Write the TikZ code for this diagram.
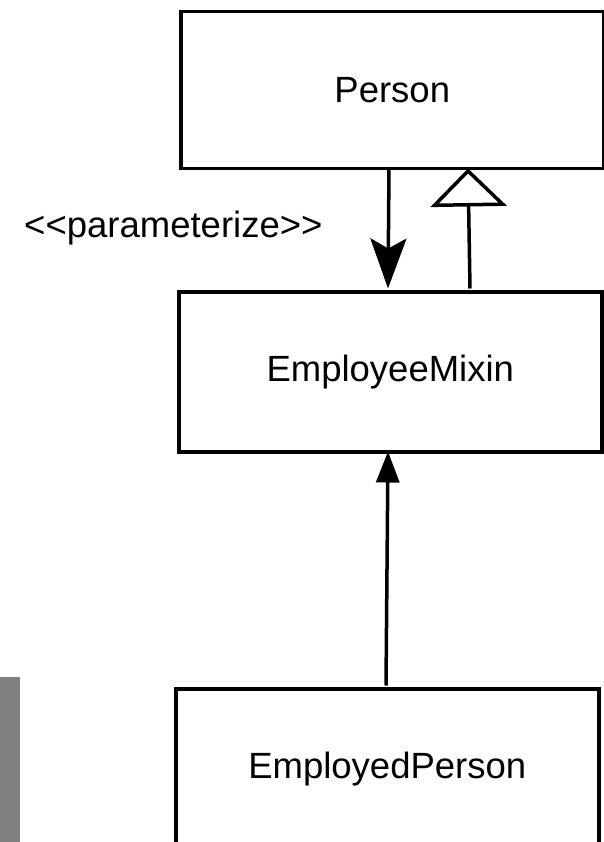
\documentclass[tikz,border=0pt]{standalone}
\usepackage{fontspec}
\setmainfont{Liberation Sans}
\usetikzlibrary{arrows.meta}
\begin{document}
\begin{tikzpicture}[x=1pt,y=-1pt,
  cls/.style={draw, line width=3.5pt, rectangle, inner sep=0pt, anchor=north west, font=\fontsize{36.5}{42}\selectfont},
  conn/.style={line width=3.5pt},
  every node/.append style={text=black}]
\useasboundingbox (0,0) rectangle (604,842);
\clip (0,0) rectangle (604,842);
\fill[black!50] (0,677) rectangle (20,850);
\node[cls, minimum width=423pt, minimum height=157pt] (person) at (179,10) {Person};
\node[cls, minimum width=423pt, minimum height=160pt] (mixin) at (177,290) {EmployeeMixin};
\node[cls, minimum width=423pt, minimum height=160pt] (employed) at (174,687) {EmployedPerson};
\node[anchor=base west, inner sep=0pt, font=\fontsize{36.5}{42}\selectfont] (lbl) at (24,237) {<{}<parameterize>{}>};
\coordinate (p1) at (389,168.5);
\coordinate (m1) at (388,288.5);
\coordinate (m2) at (470,288.5);
\coordinate (p2) at (468,168.5);
\coordinate (e1) at (386,685.5);
\coordinate (m3) at (388,451.5);
\draw[conn, -{Stealth[length=50pt, width=36pt, inset=10pt]}] (p1) -- (m1);
\draw[conn, -{Triangle[open, length=38pt, width=76pt, fill=white]}] (m2) -- (p2);
\draw[conn, -{Triangle[length=31pt, width=23pt]}] (e1) -- (m3);
\end{tikzpicture}
\end{document}
